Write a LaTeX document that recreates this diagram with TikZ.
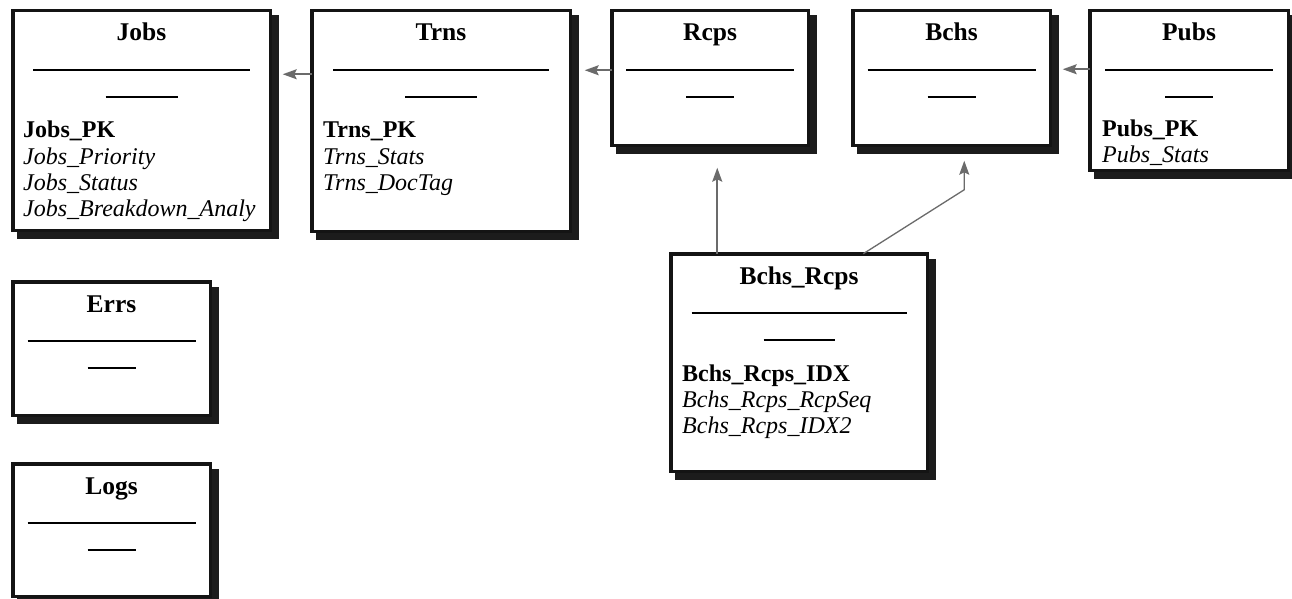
\documentclass[tikz,border=0pt]{standalone}
\usepackage{fontspec}
\setmainfont{Liberation Serif}
\usetikzlibrary{arrows.meta}
\definecolor{shadowc}{HTML}{1C1C1C}
\definecolor{borderc}{HTML}{141414}
\definecolor{arrc}{HTML}{6B6B6B}
\tikzset{
  tblbox/.style={draw=borderc, line width=3.5pt, fill=white, inner sep=0pt, outer sep=0pt},
  shadowfill/.style={fill=shadowc},
  ttl/.style={anchor=base, inner sep=0pt, font=\fontsize{25.5}{28}\selectfont\bfseries},
  fld/.style={anchor=base west, inner sep=0pt, font=\fontsize{24}{26}\selectfont},
  sepline/.style={line width=1.3pt, draw=black},
  arr/.style={draw=arrc, line width=1.8pt, -{Stealth[length=14pt,width=10pt,inset=2.5pt]}},
  arrthin/.style={draw=arrc, line width=1.3pt, -{Stealth[length=14pt,width=10pt,inset=2.5pt]}}
}
\newcommand\mytable[8]{%
  \fill[shadowfill] ({#2+6},{#3+6.5}) rectangle ({#4+6.5},{#5+7});
  \node[tblbox, minimum width={#4-#2-3.5}, minimum height={#5-#3-3.5}] (#1) at ({(#2+#4)/2},{(#3+#5)/2}) {};
  \node[ttl] (#1-title) at ({(#2+#4)/2},{#3+32}) {#6};
  \draw[sepline] ({(#2+#4)/2-#7},{#3+61}) -- ({(#2+#4)/2+#7},{#3+61});
  \draw[sepline] ({(#2+#4)/2-#8},{#3+88}) -- ({(#2+#4)/2+#8},{#3+88});
}
\begin{document}
\begin{tikzpicture}[x=1pt,y=-1pt]
\useasboundingbox (0,0) rectangle (1292,599);
\fill[white] (0,0) rectangle (1292,599);

\mytable{jobs}{11}{9}{272}{232}{Jobs}{108.5}{36}
\mytable{trns}{310}{9}{572}{233}{Trns}{108}{36}
\mytable{rcps}{610}{9}{810}{147}{Rcps}{84}{24}
\mytable{bchs}{851}{9}{1052}{147}{Bchs}{84}{24}
\mytable{pubs}{1088}{9}{1290}{172}{Pubs}{84}{24}
\mytable{br}{669}{252}{929}{473}{Bchs\_Rcps}{107.5}{35.5}
\mytable{errs}{11}{280}{212}{417}{Errs}{84}{24}
\mytable{logs}{11}{462}{212}{598}{Logs}{84}{24}

% fields
\node[fld] (jobs-f1) at (23,138) {\textbf{Jobs\_PK}};
\node[fld] (jobs-f2) at (23,164) {\textit{Jobs\_Priority}};
\node[fld] (jobs-f3) at (23,190) {\textit{Jobs\_Status}};
\node[fld] (jobs-f4) at (23,216) {\textit{Jobs\_Breakdown\_Analy}};

\node[fld] (trns-f1) at (323,138) {\textbf{Trns\_PK}};
\node[fld] (trns-f2) at (323,164) {\textit{Trns\_Stats}};
\node[fld] (trns-f3) at (323,190) {\textit{Trns\_DocTag}};

\node[fld] (pubs-f1) at (1102,136) {\textbf{Pubs\_PK}};
\node[fld] (pubs-f2) at (1102,162) {\textit{Pubs\_Stats}};

\node[fld] (br-f1) at (682,381) {\textbf{Bchs\_Rcps\_IDX}};
\node[fld] (br-f2) at (682,407) {\textit{Bchs\_Rcps\_RcpSeq}};
\node[fld] (br-f3) at (682,433) {\textit{Bchs\_Rcps\_IDX2}};

% connectors
\draw[arr] ([yshift=-63.5pt]trns.north west) -- ([xshift=12.5pt,yshift=-63.5pt]jobs.north east);
\draw[arr] ([yshift=-59.5pt]rcps.north west) -- ([xshift=14.5pt,yshift=-59.5pt]trns.north east);
\draw[arr] ([yshift=-58.5pt]pubs.north west) -- ([xshift=12.5pt,yshift=-58.5pt]bchs.north east);
\draw[arr] ([xshift=46.5pt]br.north west) -- ([xshift=105.5pt,yshift=-22.5pt]rcps.south west);
\draw[arrthin] ([xshift=192.5pt]br.north west) -- ([xshift=111.5pt,yshift=-44.5pt]bchs.south west) -- ([xshift=111.5pt,yshift=-15.5pt]bchs.south west);
\end{tikzpicture}
\end{document}
